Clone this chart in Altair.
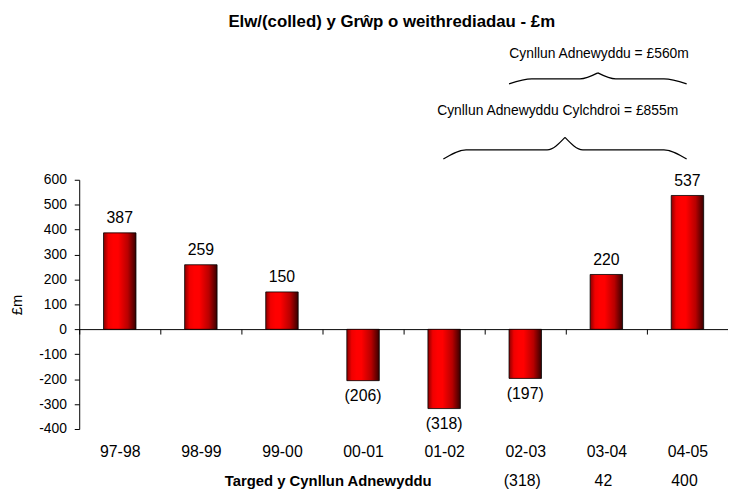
import altair as alt
import pandas as pd

# ---- data ----
cats = ["97-98", "98-99", "99-00", "00-01", "01-02", "02-03", "03-04", "04-05"]
vals = [387, 259, 150, -206, -318, -197, 220, 537]

target_cats = ["02-03", "03-04", "04-05"]
target_vals = ["(318)", "42", "400"]
target_title = "Targed y Cynllun Adnewyddu"

brace_labels = ["Cynllun Adnewyddu = £560m", "Cynllun Adnewyddu Cylchdroi = £855m"]
brace_start = [5.3, 4.49]      # in category-band units
brace_end = [7.49, 7.49]
brace_end_y = [985, 683]       # in £m axis units (above the plot)
brace_flat_y = [1005, 720]
brace_peak_y = [1029, 770]
brace_label_x = [6.41, 5.9]
brace_label_y = [1104, 874]

title_text = "Elw/(colled) y Grŵp o weithrediadau - £m"
y_title = "£m"

FONT = "Liberation Sans"
W, H = 656, 252
YMIN, YMAX = -400, 600

df = pd.DataFrame({"cat": cats, "val": vals})
df["label"] = [str(v) if v >= 0 else f"({-v})" for v in vals]

tdf = pd.DataFrame({"cat": target_cats, "label": target_vals})

# brace outlines (shape built from the brace extents)
rows = []
for i in range(len(brace_labels)):
    x0, x1 = brace_start[i], brace_end[i]
    pk = (x0 + x1) / 2
    ye, yf, yp = brace_end_y[i], brace_flat_y[i], brace_peak_y[i]
    c1, c2 = 0.28, 0.22
    left = [(x0, ye), (x0 + c1, yf), (pk - c2, yf), (pk, yp)]
    right = [(pk, yp), (pk + c2, yf), (x1 - c1, yf), (x1, ye)]
    for j, (u, v) in enumerate(left):
        rows.append({"u": u, "v": v, "seg": f"{i}L", "o": j})
    for j, (u, v) in enumerate(right):
        rows.append({"u": u, "v": v, "seg": f"{i}R", "o": j})
bdf = pd.DataFrame(rows)
ldf = pd.DataFrame({"u": brace_label_x, "v": brace_label_y, "label": brace_labels})
rowdf = pd.DataFrame({"u": [3.07], "v": [-608], "label": [target_title]})

xscale = alt.Scale(domain=cats, paddingInner=0, paddingOuter=0)
yscale = alt.Scale(domain=[YMIN, YMAX], nice=False, zero=False)
uscale = alt.Scale(domain=[0, len(cats)], nice=False, zero=False)

grad = alt.LinearGradient(
    gradient="linear",
    x1=0, x2=1, y1=0, y2=0,
    stops=[
        alt.GradientStop(color="#8a0000", offset=0),
        alt.GradientStop(color="#f00000", offset=0.15),
        alt.GradientStop(color="#ff0000", offset=0.3),
        alt.GradientStop(color="#ff0000", offset=0.45),
        alt.GradientStop(color="#b80000", offset=0.75),
        alt.GradientStop(color="#380000", offset=1),
    ],
)

y_axis = alt.Axis(title=y_title, values=list(range(YMIN, YMAX + 1, 100)),
                  labelExpr="datum.value + ''", grid=False, tickSize=5,
                  labelOverlap=False,
                  tickColor="black", domainColor="black", labelFontSize=14,
                  labelFont=FONT, labelColor="black", labelPadding=8,
                  titleFont=FONT, titleFontSize=15, titleFontWeight="normal",
                  titleColor="black", titleX=-63, titleY=H / 2,
                  titleAlign="center", titleBaseline="middle", titleAngle=-90)

x_axis = alt.Axis(title=None, labelAngle=0, offset=-101, tickBand="extent",
                  tickSize=5, tickColor="black", domainColor="black",
                  labelPadding=111, labelFontSize=16, labelFont=FONT,
                  labelColor="black", labelBaseline="top")

X = alt.X("cat:N", sort=cats, scale=xscale, axis=x_axis)
Y = alt.Y("val:Q", scale=yscale, axis=y_axis)

bars = alt.Chart(df).mark_bar(
    color=grad, stroke="black", strokeWidth=0.8, width={"band": 0.4}
).encode(x=X, y=Y)

pos_labels = alt.Chart(df).transform_filter("datum.val >= 0").mark_text(
    baseline="alphabetic", dy=-10, fontSize=16, font=FONT, color="black"
).encode(x=X, y=Y, text="label:N")

neg_labels = alt.Chart(df).transform_filter("datum.val < 0").mark_text(
    baseline="top", dy=8, fontSize=16, font=FONT, color="black"
).encode(x=X, y=Y, text="label:N")

target_row = alt.Chart(tdf).transform_calculate(val="-608").mark_text(
    baseline="middle", dx=-3, fontSize=16, font=FONT, color="black"
).encode(x=X, y=Y, text="label:N")

band_layers = alt.layer(bars, pos_labels, neg_labels, target_row)

U = alt.X("u:Q", scale=uscale, axis=None)
V = alt.Y("v:Q", scale=yscale, axis=y_axis)

brace_lines = alt.Chart(bdf).mark_line(
    color="black", strokeWidth=1.2, interpolate="monotone"
).encode(x=U, y=V, detail="seg:N", order="o:Q")

brace_text = alt.Chart(ldf).mark_text(
    baseline="middle", fontSize=14, font=FONT, color="black"
).encode(x=U, y=V, text="label:N")

row_title = alt.Chart(rowdf).mark_text(
    baseline="middle", fontSize=15, font=FONT, fontWeight="bold", color="black"
).encode(x=U, y=V, text="label:N")

quant_layers = alt.layer(brace_lines, brace_text, row_title)

chart = alt.layer(band_layers, quant_layers).resolve_scale(x="independent").properties(
    width=W, height=H,
    autosize="none",
    background="white",
    padding={"left": 72, "top": 171, "right": 0, "bottom": 60},
    title=alt.TitleParams(title_text, font=FONT, fontSize=17, fontWeight="bold",
                          color="black", anchor="middle", frame="group", dx=-12,
                          offset=3, baseline="alphabetic"),
).configure_view(stroke=None, strokeWidth=0)

chart.save("out.html", embed_options={"renderer": "svg", "actions": False})
